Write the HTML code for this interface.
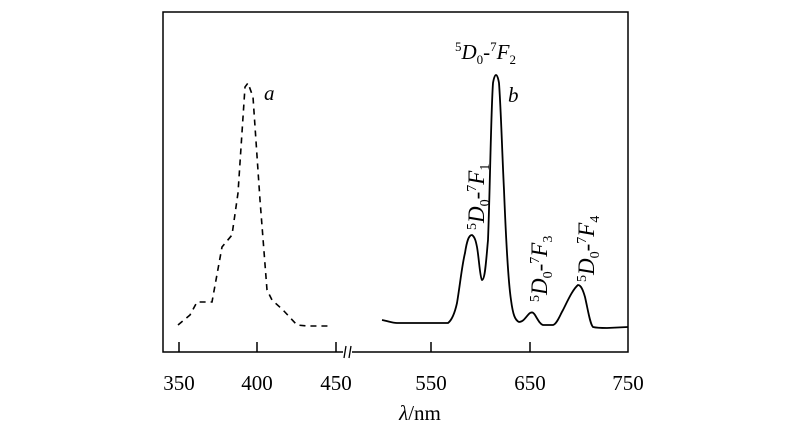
<!DOCTYPE html>
<html><head><meta charset="utf-8"><style>
html,body{margin:0;padding:0;background:#fff;}
svg{display:block;}
text{font-family:"Liberation Serif",serif;fill:#000;}
</style></head><body>
<svg width="800" height="444" viewBox="0 0 800 444" xmlns="http://www.w3.org/2000/svg">
<rect x="163" y="12" width="465" height="340" fill="none" stroke="#000" stroke-width="1.5"/>
<g stroke="#000" stroke-width="1.5">
<line x1="179" y1="352" x2="179" y2="342"/>
<line x1="257" y1="352" x2="257" y2="342"/>
<line x1="336" y1="352" x2="336" y2="342"/>
<line x1="431" y1="352" x2="431" y2="342"/>
<line x1="530" y1="352" x2="530" y2="342"/>
</g>
<rect x="343" y="348" width="9" height="8" fill="#fff"/>
<g stroke="#000" stroke-width="1.3"><line x1="344" y1="358" x2="346" y2="346"/><line x1="349" y1="358" x2="351" y2="346"/></g>
<polyline fill="none" stroke="#000" stroke-width="1.6" stroke-dasharray="6,5" points="178,325 190,315 197,302 212,302 222,247 232,235 238,193 245,87 248,83 253,97 260,200 267,290 272,300 283,310 297,325 307,326 332,326"/>
<path fill="none" stroke="#000" stroke-width="1.8" d="M382,320 C388,321 392,323 397,323 L448,323 C452,320 455,312 457,303 C460,285 462,265 465,253 C467,240 469,235 472,235 C475,237 476,242 477,247 C479,258 480,278 482,280 C485,280 486,262 488,240 C490,190 491,110 493,83 C494,77 495,75 496,75 C497,75 498,77 499,83 C501,110 502,150 504,190 C506,240 508,280 511,300 C513,315 515,320 519,322 C524,322 527,315 530,313 C532,312 533,312 535,315 C538,320 540,324 543,325 L553,325 C557,324 560,315 563,310 C568,300 573,289 578,285 C581,285 583,290 585,297 C588,310 590,324 593,327 C597,328 602,328 607,328 L628,327"/>
<g font-size="21">
<text x="179" y="390" text-anchor="middle">350</text>
<text x="257" y="390" text-anchor="middle">400</text>
<text x="336" y="390" text-anchor="middle">450</text>
<text x="431" y="390" text-anchor="middle">550</text>
<text x="530" y="390" text-anchor="middle">650</text>
<text x="628" y="390" text-anchor="middle">750</text>
<text x="420" y="420" text-anchor="middle"><tspan font-style="italic">λ</tspan>/nm</text>
<text x="264" y="100" font-style="italic">a</text>
<text x="508" y="102" font-style="italic">b</text>
<text x="455" y="59"><tspan font-size="13" dy="-8">5</tspan><tspan font-style="italic" dy="8">D</tspan><tspan font-size="13" dy="5">0</tspan><tspan dy="-5">-</tspan><tspan font-size="13" dy="-8">7</tspan><tspan font-style="italic" dy="8">F</tspan><tspan font-size="13" dy="5">2</tspan></text>
</g>
<g font-size="23">
<text transform="translate(484,230) rotate(-90)"><tspan font-size="14" dy="-8">5</tspan><tspan font-style="italic" dy="8">D</tspan><tspan font-size="14" dy="5">0</tspan><tspan dy="-5">-</tspan><tspan font-size="14" dy="-8">7</tspan><tspan font-style="italic" dy="8">F</tspan><tspan font-size="14" dy="5">1</tspan></text>
<text transform="translate(547,302) rotate(-90)"><tspan font-size="14" dy="-8">5</tspan><tspan font-style="italic" dy="8">D</tspan><tspan font-size="14" dy="5">0</tspan><tspan dy="-5">-</tspan><tspan font-size="14" dy="-8">7</tspan><tspan font-style="italic" dy="8">F</tspan><tspan font-size="14" dy="5">3</tspan></text>
<text transform="translate(594,282) rotate(-90)"><tspan font-size="14" dy="-8">5</tspan><tspan font-style="italic" dy="8">D</tspan><tspan font-size="14" dy="5">0</tspan><tspan dy="-5">-</tspan><tspan font-size="14" dy="-8">7</tspan><tspan font-style="italic" dy="8">F</tspan><tspan font-size="14" dy="5">4</tspan></text>
</g>
</svg>
</body></html>
